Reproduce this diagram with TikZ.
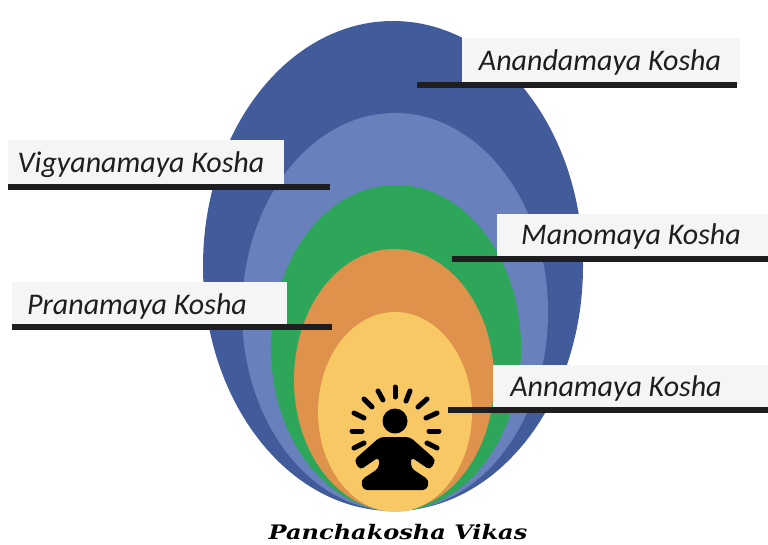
\documentclass[tikz,border=0pt]{standalone}
\usepackage{fontspec}
\setmainfont{Carlito}
\newfontfamily\captionfont{DejaVu Serif}
\usetikzlibrary{positioning}
\definecolor{koshaAnanda}{RGB}{66,91,155}
\definecolor{koshaVigyana}{RGB}{104,128,188}
\definecolor{koshaMano}{RGB}{45,166,90}
\definecolor{koshaPrana}{RGB}{222,146,76}
\definecolor{koshaAnna}{RGB}{248,200,100}
\definecolor{labelGrey}{RGB}{245,245,245}
\definecolor{ruleBlack}{RGB}{30,30,32}

\begin{document}
\begin{tikzpicture}[
    x=1pt, y=-1pt,
    labelbox/.style={fill=labelGrey, anchor=north west, inner sep=0pt},
    labeltext/.style={font=\fontsize{30}{32}\itshape\selectfont, text=ruleBlack},
    leader/.style={draw=ruleBlack, line width=6pt},
    ray/.style={draw=black, line width=5pt, line cap=round}
]
    \useasboundingbox (0,0) rectangle (768,544);

    % shells, outermost first
    \fill[koshaAnanda] (393,266) ellipse [x radius=190, y radius=245];
    \fill[koshaVigyana] (395,312) ellipse [x radius=153, y radius=199];
    \fill[koshaMano] (396,348) ellipse [x radius=125, y radius=163];
    \fill[koshaPrana] (394,380) ellipse [x radius=100, y radius=131];
    \fill[koshaAnna] (395,412) ellipse [x radius=77, y radius=100];

    % label plates
    \node[labelbox, minimum width=278pt, minimum height=47pt] (anandaBox) at (462,38) {};
    \node[labelbox, minimum width=276pt, minimum height=48pt] (vigyanaBox) at (8,140) {};
    \node[labelbox, minimum width=271pt, minimum height=45pt] (manoBox) at (497,214) {};
    \node[labelbox, minimum width=275pt, minimum height=45pt] (pranaBox) at (12,282) {};
    \node[labelbox, minimum width=275pt, minimum height=45pt] (annaBox) at (493,365) {};

    \node[labeltext] (anandaText) at (600,62) {Anandamaya Kosha};
    \node[labeltext] (vigyanaText) at (141,165) {Vigyanamaya Kosha};
    \node[labeltext] (manoText) at (631,236) {Manomaya Kosha};
    \node[labeltext] (pranaText) at (137,306) {Pranamaya Kosha};
    \node[labeltext] (annaText) at (616,388) {Annamaya Kosha};

    % leader lines
    \coordinate (anandaTip) at (417,85);
    \coordinate (vigyanaTip) at (330,187);
    \coordinate (manoTip) at (452,259);
    \coordinate (pranaTip) at (332,327);
    \coordinate (annaTip) at (448,410);
    \draw[leader] (anandaTip) -- (737,85);
    \draw[leader] (8,187) -- (vigyanaTip);
    \draw[leader] (manoTip) -- (768,259);
    \draw[leader] (12,327) -- (pranaTip);
    \draw[leader] (annaTip) -- (768,410);

    % seated figure
    \fill[black] (395,421) circle (12.5);
    \fill[black, rounded corners=4pt] (380,437) -- (410,437) -- (436,460) -- (430,470) -- (411,457) -- (411,468) -- (429,480) -- (427,490) -- (363,490) -- (361,480) -- (379,468) -- (379,457) -- (360,470) -- (354,460) -- cycle;
    \foreach \xa/\ya/\xb/\yb in {395/387/395/397, 378/391/383/400, 364/399/372/407, 354/413/364/418, 352/431/362/431, 354/448/364/443, 410/391/406/401, 427/399/418/407, 437/413/426/418, 439/431/429/431, 437/448/427/443} {
        \draw[ray] (\xa,\ya) -- (\xb,\yb);
    }

    \node[font=\fontsize{20}{22}\captionfont\bfseries\itshape\selectfont, text=black, inner sep=0pt] (captionText) at (398,532) {\scalebox{1.2}[1]{Panchakosha Vikas}};
\end{tikzpicture}
\end{document}
